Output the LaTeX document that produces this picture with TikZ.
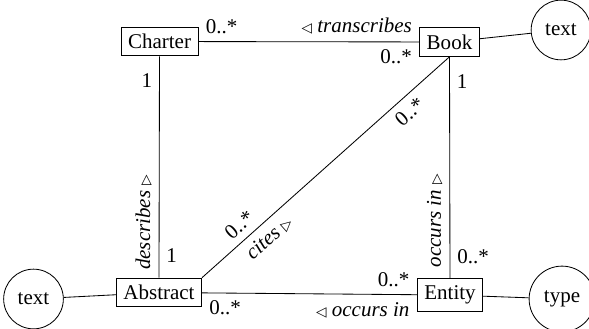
\documentclass[tikz,border=0pt]{standalone}
\usepackage{fontspec}
\setmainfont{Liberation Serif}
\newfontfamily\trifont{DejaVu Sans}
\newcommand{\ltri}{{\trifont\fontsize{6.5}{7}\selectfont ◁}}
\newcommand{\rtri}{{\trifont\fontsize{6.5}{7}\selectfont ▷}}

\begin{document}
\begin{tikzpicture}[x=0.476pt, y=-0.476pt,
    classbox/.style={draw, rectangle, fill=white},
    attrcircle/.style={draw, circle, inner sep=4.6pt},
    rolelabel/.style={rotate=90, anchor=south}]

    \useasboundingbox (0,0) rectangle (589,329);

    % ==========================================
    % CLASSES
    % ==========================================
    \node[classbox] (charter)  at (159.5, 41.5) {Charter};
    \node[classbox] (book)     at (449.5, 42)   {Book};
    \node[classbox] (abstract) at (159, 292.5)  {Abstract};
    \node[classbox] (entity)   at (450, 295)    {Entity};

    % ==========================================
    % ATTRIBUTES
    % ==========================================
    \node[attrcircle] (booktext) at (561, 30)   {text};
    \node[attrcircle] (abstext)  at (33.5, 299) {text};
    \node[attrcircle] (enttype)  at (562, 299)  {type};

    \draw (book) -- (booktext);
    \draw (abstract) -- (abstext);
    \draw (entity) -- (enttype);

    % ==========================================
    % ASSOCIATIONS
    % ==========================================
    % Charter -- Book
    \draw (charter) --
        node[pos=0, above right] {0..*}
        node[pos=1, above left] {\ltri\ \textit{transcribes}}
        node[pos=1, below left] {0..*}
        (book);

    % Charter -- Abstract
    \draw (charter.south) --
        node[pos=0.11, left] {1}
        node[pos=0.75, rolelabel] {\textit{describes} \rtri}
        node[pos=0.9, right] {1}
        (abstract.north);

    % Book -- Entity
    \draw (book.south) --
        node[pos=0.11, right] {1}
        node[pos=0.74, rolelabel] {\textit{occurs in} \rtri}
        node[pos=0.9, right] {0..*}
        (entity.north);

    % Book -- Abstract (diagonal)
    \draw (book.south) --
        node[pos=0.2, sloped, below] {0..*}
        node[pos=0.77, sloped, below] {\textit{cites} \rtri}
        node[pos=0.81, sloped, above] {0..*}
        (abstract.north east);

    % Abstract -- Entity
    \draw (abstract) --
        node[pos=0, below right] {0..*}
        node[pos=1, above left] {0..*}
        node[pos=1, below left] {\ltri\ \textit{occurs in}}
        (entity);

\end{tikzpicture}
\end{document}
